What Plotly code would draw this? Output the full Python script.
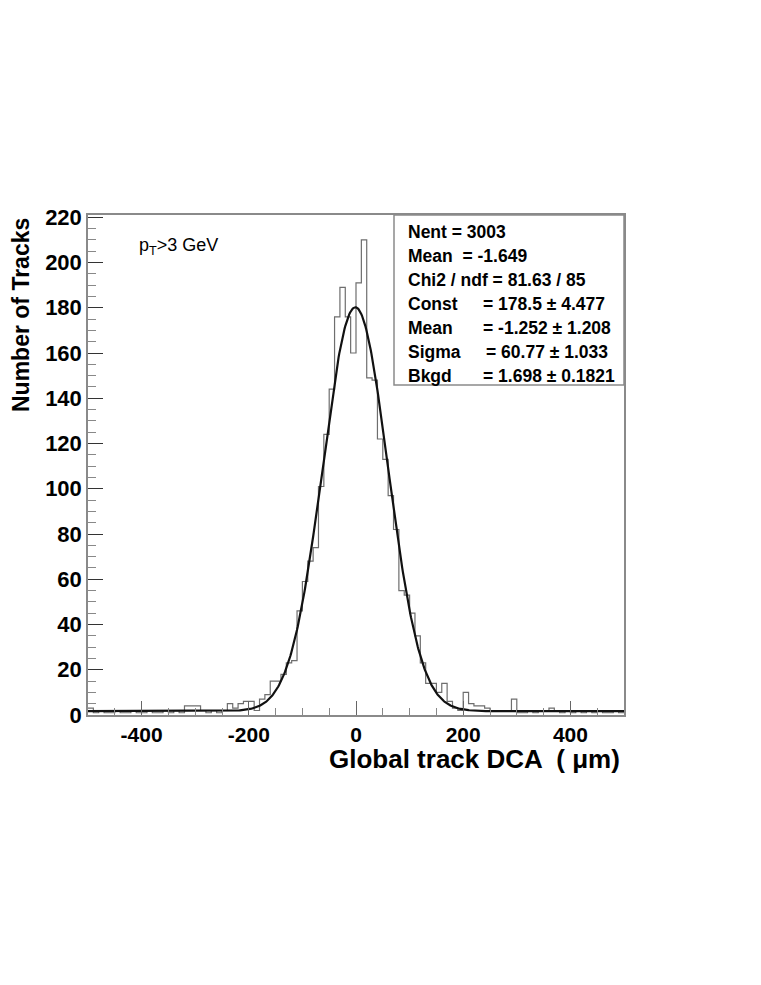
import numpy as np
import plotly.graph_objects as go

# ---------------- data ----------------
bin_width = 10
bin_left_edges = list(range(-500, 500, bin_width))
counts = [
    3, 1, 2, 1, 1, 2, 1, 1, 2, 1,          # -500 .. -410
    1, 2, 1, 1, 2, 1, 2, 1, 4, 4,          # -400 .. -310
    4, 2, 1, 2, 1, 2, 5, 3, 5, 6,          # -300 .. -210
    6, 2, 7, 9, 15, 15, 18, 23, 24, 46,    # -200 .. -110
    59, 68, 74, 101, 124, 144, 176, 189, 176, 160,  # -100 .. -10
    191, 210, 149, 148, 122, 113, 97, 82, 55, 53,   # 0 .. 90
    45, 35, 23, 14, 14, 10, 14, 6, 3, 2,   # 100 .. 190
    10, 5, 4, 4, 3, 2, 2, 2, 2, 7,         # 200 .. 290
    1, 1, 2, 1, 2, 2, 3, 2, 1, 2,          # 300 .. 390
    1, 2, 1, 2, 1, 2, 1, 1, 2, 1,          # 400 .. 490
]

# fit parameters (from the stats box)
fit_const = 178.5
fit_mean = -1.252
fit_sigma = 60.77
fit_bkgd = 1.698

stats_labels = ["Nent = 3003", "Mean  = -1.649", "Chi2 / ndf = 81.63 / 85",
                "Const", "Mean", "Sigma", "Bkgd"]
stats_values = [None, None, None,
                "= 178.5 \u00b1 4.477", "= -1.252 \u00b1 1.208",
                "= 60.77 \u00b1 1.033", "= 1.698 \u00b1 0.1821"]

x_ticks = [-400, -200, 0, 200, 400]
x_tick_text = ["-400", "-200", "0", "200", "400"]
y_ticks = list(range(0, 221, 20))

# ---------------- figure ----------------
# page body has an 8px margin; figure is sized so the plot area lands at
# page x 88..624, y 215..715
OFF = 8
W, H = 761 - OFF, 985 - OFF
L, T = 88 - OFF, 215 - OFF
R = W - (624 - OFF)
B = H - (715 - OFF)
PW, PH = 624 - 88, 715 - 215

def px(x):  # page pixel -> paper
    return (x - 88) / PW

def py(y):
    return (715 - y) / PH

FONT = "Liberation Sans, Arial, Helvetica, sans-serif"

step_x = bin_left_edges + [bin_left_edges[-1] + bin_width]
step_y = counts + [counts[-1]]

xf = np.linspace(-500, 500, 801)
yf = fit_const * np.exp(-0.5 * ((xf - fit_mean) / fit_sigma) ** 2) + fit_bkgd

fig = go.Figure()
fig.add_trace(go.Scatter(x=step_x, y=step_y, mode="lines", line=dict(shape="hv", color="#6e6e6e", width=1.2),
                         hoverinfo="skip", showlegend=False))
fig.add_trace(go.Scatter(x=xf, y=yf, mode="lines", line=dict(color="#111111", width=2.2),
                         hoverinfo="skip", showlegend=False))

fig.update_layout(
    width=W, height=H,
    margin=dict(l=L, r=R, t=T, b=B),
    paper_bgcolor="white", plot_bgcolor="white",
    font=dict(family=FONT, color="black"),
)

fig.update_xaxes(
    range=[-500, 500], tickvals=x_ticks, ticktext=x_tick_text,
    ticks="inside", ticklen=14, tickcolor="#666", tickwidth=1,
    minor=dict(tick0=0, dtick=50, ticks="inside", ticklen=7, tickcolor="#888", showgrid=False),
    showline=True, linecolor="#8a8a8a", linewidth=1.5, mirror=True,
    showgrid=False, zeroline=False,
    tickfont=dict(family=FONT, size=21, weight="bold", color="black"),
    ticklabelstandoff=0,
)
fig.update_yaxes(
    range=[0, 221], tickvals=y_ticks,
    ticks="inside", ticklen=15, tickcolor="#333", tickwidth=1,
    minor=dict(tick0=0, dtick=5, ticks="inside", ticklen=8, tickcolor="#888", showgrid=False),
    showline=True, linecolor="#8a8a8a", linewidth=1.5, mirror=True,
    showgrid=False, zeroline=False,
    tickfont=dict(family=FONT, size=22, weight="bold", color="black"),
    ticklabelstandoff=0,
)

annotations = []
# axis titles
annotations.append(dict(x=px(622), y=py(759), xref="paper", yref="paper", xanchor="right", yanchor="middle",
                        text="<b>Global track DCA  ( \u03bcm)</b>", showarrow=False,
                        font=dict(family=FONT, size=26, color="black")))
annotations.append(dict(x=px(21), y=py(315), xref="paper", yref="paper", xanchor="center", yanchor="middle",
                        text="<b>Number of Tracks</b>", textangle=-90, showarrow=False,
                        font=dict(family=FONT, size=23, color="black")))
# pT label
annotations.append(dict(x=px(137), y=py(246), xref="paper", yref="paper", xanchor="left", yanchor="middle",
                        text="p<sub>T</sub>>3 GeV", showarrow=False,
                        font=dict(family=FONT, size=18, color="black")))

# stats box
line_y = [232, 256, 280, 304, 328, 352, 376]
val_x = [None, None, None, 481, 481, 484, 481]
for i, lab in enumerate(stats_labels):
    annotations.append(dict(x=px(406), y=py(line_y[i]), xref="paper", yref="paper", xanchor="left", yanchor="middle",
                            text="<b>" + lab + "</b>", showarrow=False,
                            font=dict(family=FONT, size=17.5, color="black")))
    if stats_values[i] is not None:
        annotations.append(dict(x=px(val_x[i]), y=py(line_y[i]), xref="paper", yref="paper", xanchor="left",
                                yanchor="middle", text="<b>" + stats_values[i] + "</b>", showarrow=False,
                                font=dict(family=FONT, size=17.5, color="black")))
fig.update_layout(annotations=annotations)

fig.add_shape(type="rect", xref="paper", yref="paper", x0=px(394), x1=1, y0=py(385), y1=1,
              line=dict(color="#8a8a8a", width=1.5), fillcolor="rgba(0,0,0,0)", layer="above")

fig.write_html("out.html")
